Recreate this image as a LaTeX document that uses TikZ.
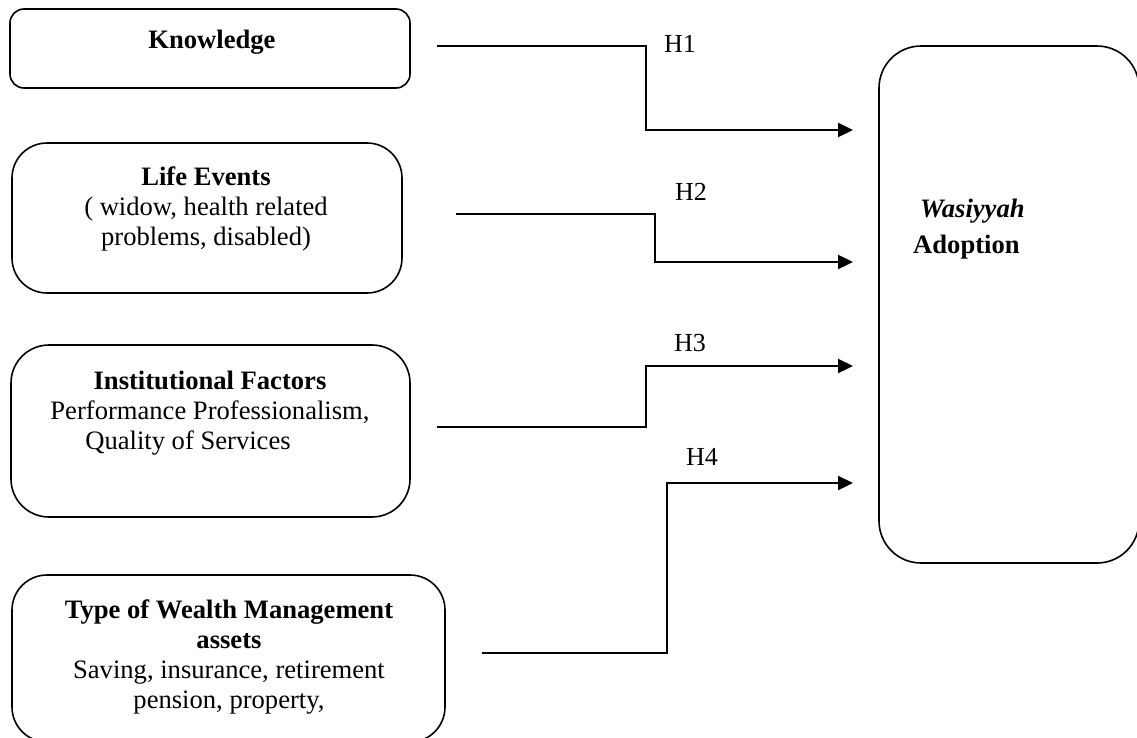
\documentclass[tikz,border=0pt]{standalone}
\usepackage{fontspec}
\setmainfont{Liberation Serif}
\usetikzlibrary{arrows.meta}
\begin{document}
\begin{tikzpicture}[x=1pt,y=-1pt,
  box/.style={draw, line width=1.6pt, rounded corners=#1, inner sep=0pt},
  txt/.style={font=\fontsize{26.6}{30}\selectfont, inner sep=0pt, align=center, anchor=north},
  hlab/.style={font=\fontsize{26}{30}\selectfont, inner sep=0pt, anchor=base},
  conn/.style={line width=2.2pt, -{Triangle[length=15pt,width=14pt]}}]
\fill[white] (0,0) rectangle (1137,737);
\useasboundingbox (0,0) rectangle (1137,737);

% boxes
\node[box=14, minimum width=400pt, minimum height=79pt] (k) at (210,48.5) {};
\node[box=35, minimum width=390pt, minimum height=150pt] (le) at (207,218) {};
\node[box=38, minimum width=399pt, minimum height=172pt] (inst) at (210.5,431) {};
\node[box=35, minimum width=433pt, minimum height=167pt] (tw) at (228.5,658.5) {};
\node[box=42, minimum width=260pt, minimum height=517pt] (wa) at (1009,304.5) {};

% texts
\node[txt] (kt) at (212,27) {\strut\textbf{Knowledge}};
\node[txt] (let) at (206,164) {\strut\textbf{Life Events}\\( widow, health related\\problems, disabled)};
\node[txt] (instt) at (210,368) {\strut\textbf{Institutional Factors}\\Performance Professionalism,\\Quality of Services\hspace*{44pt}};
\node[txt] (twt) at (229,597) {\strut\textbf{Type of Wealth Management}\\\textbf{assets}\\Saving, insurance, retirement\\pension, property,};
\node[txt, align=left, anchor=north west] (wat) at (913,196) {\strut\hspace*{7pt}\textbf{\textit{Wasiyyah}}\\[6pt]\textbf{Adoption}};

% connector coordinates
\coordinate (s1) at (437,46);   \coordinate (b1) at (646,130); \coordinate (t1) at (853,130);
\coordinate (s2) at (456,214);  \coordinate (b2) at (655,262); \coordinate (t2) at (853,262);
\coordinate (s3) at (437,427);  \coordinate (b3) at (646,366); \coordinate (t3) at (853,366);
\coordinate (s4) at (482,653);  \coordinate (b4) at (667,483); \coordinate (t4) at (853,483);

\draw[conn] (s1) -| (b1) -- (t1);
\draw[conn] (s2) -| (b2) -- (t2);
\draw[conn] (s3) -| (b3) -- (t3);
\draw[conn] (s4) -| (b4) -- (t4);

% labels
\node[hlab] (h1) at (680,52) {H1};
\node[hlab] (h2) at (691,200) {H2};
\node[hlab] (h3) at (690,351) {H3};
\node[hlab] (h4) at (702,465) {H4};
\end{tikzpicture}
\end{document}
